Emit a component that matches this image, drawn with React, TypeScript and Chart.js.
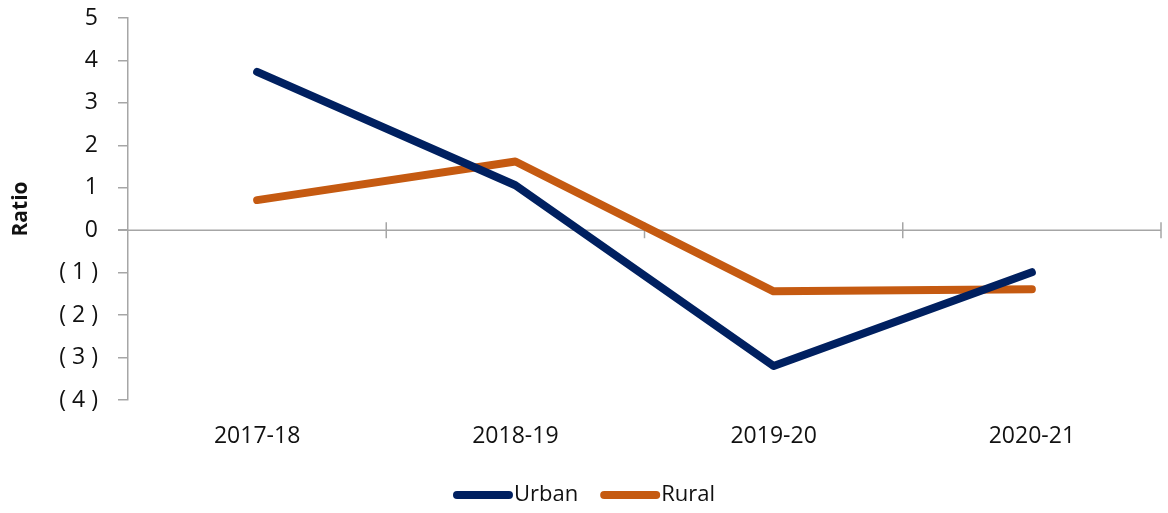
import React, { useEffect, useRef } from "react";
import { Chart, registerables } from "chart.js";

Chart.register(...registerables);

const categories = ["2017-18", "2018-19", "2019-20", "2020-21"];
const urbanValues = [3.73, 1.06, -3.2, -0.99];
const ruralValues = [0.71, 1.62, -1.44, -1.39];
const yTickValues = [5, 4, 3, 2, 1, 0, -1, -2, -3, -4];
const seriesNames = ["Urban", "Rural"];
const seriesColors = ["#002060", "#C55A11"];

const FONT = "'Open Sans', 'DejaVu Sans', sans-serif";
const AXIS_GRAY = "#A6A6A6";
const TEXT = "#111111";

const formatTick = (v: number) => (v < 0 ? `( ${-v} )` : `${v}`);

const zeroLinePlugin = {
  id: "zeroLine",
  beforeDatasetsDraw(chart: any) {
    const { ctx, chartArea, scales } = chart;
    const y = scales.y.getPixelForValue(0);
    const xs = scales.x;
    ctx.save();
    ctx.strokeStyle = AXIS_GRAY;
    ctx.lineWidth = 1.5;
    ctx.beginPath();
    ctx.moveTo(chartArea.left - 10, y);
    ctx.lineTo(chartArea.right, y);
    ctx.stroke();
    const n = categories.length;
    const step = (xs.right - xs.left) / n;
    for (let i = 1; i <= n; i++) {
      const x = xs.left + i * step;
      ctx.beginPath();
      ctx.moveTo(x, y - 8);
      ctx.lineTo(x, y + 8);
      ctx.stroke();
    }
    ctx.restore();
  },
};

const legendPlugin = {
  id: "customLegend",
  afterDraw(chart: any) {
    const { ctx, width } = chart;
    const lineLen = 60;
    const gapText = 1;
    const gapItems = 22;
    const y = 495;
    ctx.save();
    ctx.font = `22px ${FONT}`;
    const widths = seriesNames.map((n) => ctx.measureText(n).width);
    const total =
      widths.reduce((a, w) => a + lineLen + gapText + w, 0) +
      gapItems * (seriesNames.length - 1);
    let x = width / 2 - total / 2;
    seriesNames.forEach((name, i) => {
      ctx.strokeStyle = seriesColors[i];
      ctx.lineWidth = 8;
      ctx.lineCap = "round";
      ctx.beginPath();
      ctx.moveTo(x + 4, y);
      ctx.lineTo(x + lineLen - 4, y);
      ctx.stroke();
      x += lineLen + gapText;
      ctx.fillStyle = TEXT;
      ctx.textBaseline = "middle";
      ctx.textAlign = "left";
      ctx.fillText(name, x, y);
      x += widths[i] + gapItems;
    });
    ctx.restore();
  },
};

export default function App() {
  const canvasRef = useRef<HTMLCanvasElement | null>(null);

  useEffect(() => {
    if (!canvasRef.current) return;
    const chart = new Chart(canvasRef.current, {
      type: "line",
      data: {
        labels: categories,
        datasets: [
          {
            label: seriesNames[0],
            data: urbanValues,
            borderColor: seriesColors[0],
            backgroundColor: seriesColors[0],
            borderWidth: 8,
            borderCapStyle: "round",
            borderJoinStyle: "round",
            pointRadius: 0,
            tension: 0,
          },
          {
            label: seriesNames[1],
            data: ruralValues,
            borderColor: seriesColors[1],
            backgroundColor: seriesColors[1],
            borderWidth: 8,
            borderCapStyle: "round",
            borderJoinStyle: "round",
            pointRadius: 0,
            tension: 0,
          },
        ],
      },
      options: {
        animation: false,
        responsive: false,
        maintainAspectRatio: false,
        layout: { padding: { top: 18, right: 7, left: 0, bottom: 0 } },
        plugins: {
          legend: { display: false },
          tooltip: { enabled: false },
        },
        scales: {
          x: {
            type: "category",
            offset: true,
            grid: { display: false, drawTicks: false },
            border: { display: false },
            ticks: {
              color: TEXT,
              font: { family: FONT, size: 23 },
              padding: 23,
              maxRotation: 0,
            },
            afterFit: (scale: any) => {
              scale.height = 113;
              scale.paddingLeft = 0;
              scale.paddingRight = 0;
            },
          },
          y: {
            type: "linear",
            min: -4,
            max: 5,
            afterBuildTicks: (scale: any) => {
              scale.ticks = yTickValues.map((v) => ({ value: v }));
            },
            grid: {
              drawOnChartArea: false,
              drawTicks: true,
              tickLength: 10,
              color: AXIS_GRAY,
              lineWidth: 1.5,
            },
            border: { display: true, color: AXIS_GRAY, width: 1.5 },
            ticks: {
              color: TEXT,
              font: { family: FONT, size: 23 },
              padding: 20,
              callback: (v: any) => formatTick(Number(v)),
            },
            title: {
              display: true,
              text: "Ratio",
              color: TEXT,
              font: { family: FONT, size: 21, weight: "bold" },
              padding: { top: 8, bottom: 0 },
            },
            afterFit: (scale: any) => {
              scale.width = 128;
              scale.paddingTop = 0;
              scale.paddingBottom = 0;
            },
          },
        },
      },
      plugins: [zeroLinePlugin, legendPlugin],
    });
    return () => chart.destroy();
  }, []);

  return (
    <div style={{ position: "fixed", left: 0, top: 0, width: 1168, height: 513, background: "#fff" }}>
      <canvas ref={canvasRef} width={1168} height={513} style={{ display: "block" }} />
    </div>
  );
}
